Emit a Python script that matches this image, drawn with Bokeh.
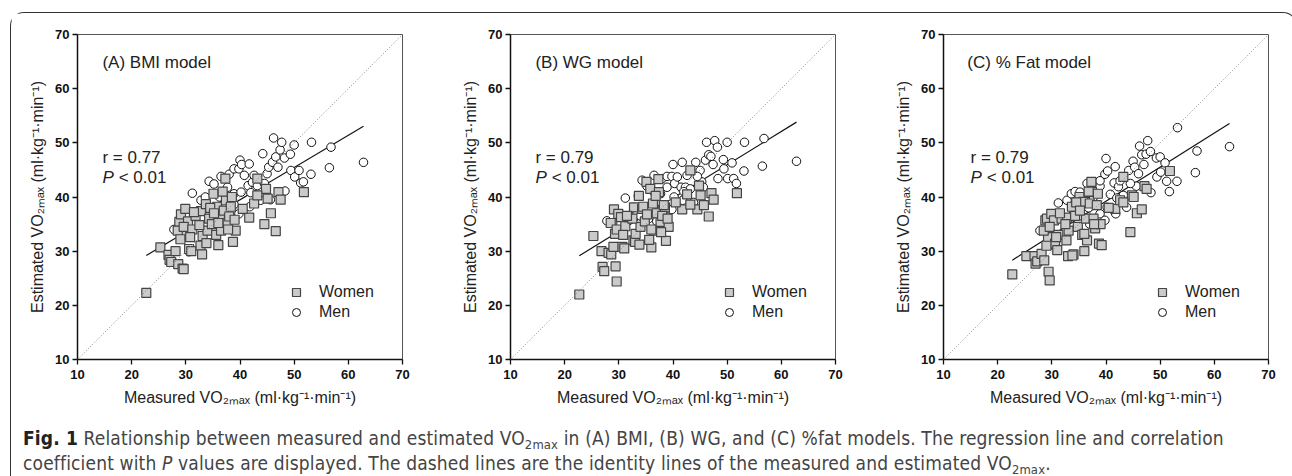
from bokeh.plotting import figure
from bokeh.models import (Label, Legend, LegendItem, FixedTicker, Slope, Div, Range1d)
from bokeh.layouts import row, column
from bokeh.embed import file_html
from bokeh.resources import INLINE

# ---------------- data ----------------
ticks = [10, 20, 30, 40, 50, 60, 70]
panel_titles = ["(A) BMI model", "(B) WG model", "(C) % Fat model"]
r_texts = ["r = 0.77", "r = 0.79", "r = 0.79"]
p_text = "< 0.01"

women_measured = [22.7, 25.3, 26.8, 27.0, 27.3, 28.1, 28.6, 29.4, 29.6, 28.8, 29.1, 29.9, 29.3, 30.4,
                  30.6, 28.5, 29.6, 31.2, 31.8, 32.8, 32.7, 33.0, 33.1, 33.7, 34.0, 34.3, 34.8, 35.1,
                  35.8, 36.0, 35.6, 36.5, 36.3, 37.3, 37.4, 37.7, 37.0, 38.5, 38.7, 39.2, 38.0, 38.3,
                  41.7, 42.6, 43.2, 44.5, 44.8, 45.1, 45.7, 46.6, 47.1, 47.5, 51.8, 43.2, 32.5, 30.8,
                  34.5, 36.8, 39.0, 33.8, 29.0, 31.5, 40.5, 37.8, 35.2, 31.0, 36.0]
women_est_bmi = [22.3, 30.7, 29.3, 28.4, 28.0, 30.0, 27.6, 26.8, 26.7, 35.4, 36.8, 37.8, 33.1, 35.5,
                 30.4, 33.8, 34.5, 34.0, 36.5, 37.4, 31.0, 29.4, 32.8, 38.7, 33.8, 36.0, 35.0, 40.6,
                 38.2, 31.1, 33.0, 33.8, 36.5, 43.4, 39.4, 35.2, 37.5, 40.0, 31.7, 33.8, 36.4, 38.2,
                 36.2, 38.8, 43.4, 35.0, 41.5, 39.7, 37.0, 33.7, 40.9, 39.5, 40.9, 40.3, 34.8, 32.6,
                 38.0, 41.0, 35.8, 31.5, 32.2, 37.2, 37.8, 34.0, 37.0, 30.0, 35.2]
women_est_wg = [22.0, 32.8, 30.0, 27.1, 26.3, 29.7, 29.4, 27.2, 24.4, 35.2, 37.7, 36.9, 33.2, 36.3,
                30.8, 35.2, 34.0, 34.6, 36.3, 38.1, 32.0, 31.7, 33.2, 40.2, 34.5, 37.8, 35.5, 42.8,
                41.5, 30.7, 32.1, 33.8, 38.8, 43.3, 40.9, 35.4, 37.0, 38.1, 31.9, 34.5, 36.5, 38.5,
                37.7, 40.5, 44.9, 37.7, 42.1, 40.3, 38.5, 36.4, 40.7, 39.5, 40.7, 38.6, 36.0, 33.0,
                38.2, 40.2, 36.0, 31.2, 30.8, 36.5, 39.0, 33.5, 36.8, 30.5, 34.0]
women_est_fat = [25.7, 29.1, 29.1, 27.7, 28.1, 29.5, 28.3, 26.2, 24.6, 35.7, 36.0, 36.9, 32.6, 35.7,
                 31.4, 33.8, 34.5, 33.0, 36.0, 36.2, 32.0, 29.1, 33.8, 38.2, 29.4, 36.5, 34.5, 40.0,
                 39.1, 30.0, 33.0, 32.0, 36.0, 42.8, 40.9, 36.0, 38.8, 40.6, 31.4, 31.1, 34.2, 38.5,
                 37.8, 39.4, 43.7, 33.5, 40.3, 40.0, 37.0, 37.7, 42.0, 41.5, 44.8, 39.0, 35.0, 32.6,
                 39.0, 41.0, 35.0, 29.2, 31.0, 37.0, 38.0, 35.0, 37.5, 30.2, 33.2]

men_measured = [27.8, 30.6, 31.2, 32.8, 33.6, 34.3, 35.2, 35.5, 36.2, 36.5, 37.7, 38.0, 38.9, 38.9,
                38.9, 39.8, 39.8, 40.0, 40.2, 40.3, 40.8, 41.5, 41.7, 41.8, 42.3, 42.6, 43.2, 43.8,
                44.2, 45.0, 45.3, 45.6, 46.0, 46.2, 46.6, 47.4, 47.7, 48.2, 48.3, 49.3, 49.4, 50.0,
                50.1, 50.9, 51.2, 51.7, 53.1, 53.2, 56.5, 56.8, 62.8, 36.8, 34.0, 37.0, 42.0, 44.5, 47.0]
men_est_bmi = [34.0, 29.9, 40.7, 39.4, 40.0, 42.9, 42.4, 36.3, 40.0, 43.8, 41.8, 44.2, 40.6, 38.6,
               45.2, 45.2, 36.9, 46.8, 40.9, 46.0, 44.0, 42.1, 46.1, 38.2, 42.7, 44.0, 42.1, 39.4,
               48.0, 44.3, 45.5, 39.5, 46.4, 50.9, 47.4, 48.7, 50.1, 47.2, 41.1, 47.9, 44.9, 49.6,
               43.7, 44.9, 42.6, 42.8, 44.2, 50.1, 45.4, 49.2, 46.4, 38.5, 37.5, 36.0, 40.8, 42.5, 45.5]
men_est_wg = [35.6, 30.6, 39.8, 38.1, 40.2, 43.1, 42.0, 36.0, 41.2, 44.0, 40.6, 43.4, 41.8, 36.3,
              43.8, 43.8, 37.7, 46.0, 40.0, 42.5, 43.7, 41.8, 46.4, 39.4, 41.8, 44.0, 41.5, 39.0,
              46.4, 44.9, 42.8, 41.8, 46.8, 50.1, 47.8, 46.0, 50.4, 49.2, 43.4, 46.9, 45.2, 50.1,
              43.4, 46.3, 43.4, 42.5, 44.8, 50.1, 45.7, 50.8, 46.6, 39.0, 36.5, 35.5, 41.0, 43.8, 47.5]
men_est_fat = [33.8, 30.8, 38.9, 39.4, 40.6, 41.0, 40.9, 36.5, 39.4, 42.5, 40.0, 41.2, 42.0, 36.9,
               43.0, 44.2, 35.7, 47.1, 38.1, 44.8, 40.5, 42.6, 45.6, 36.9, 41.9, 43.0, 40.3, 38.1,
               44.9, 46.6, 45.5, 42.0, 44.3, 49.4, 47.8, 47.9, 50.4, 48.4, 40.8, 47.2, 43.7, 47.4,
               44.6, 46.3, 42.9, 41.0, 42.9, 52.8, 44.5, 48.5, 49.3, 38.0, 37.0, 35.0, 39.8, 42.5, 46.0]

reg_slope = [0.595, 0.615, 0.629]
reg_intercept = [15.7, 15.2, 14.06]

women_est = [women_est_bmi, women_est_wg, women_est_fat]
men_est = [men_est_bmi, men_est_wg, men_est_fat]

# ---------------- styling ----------------
FONT = "Liberation Sans"
widths = [433, 433, 409]
right_borders = [42, 42, 18]
all_measured = women_measured + men_measured
x_lo, x_hi = min(all_measured), max(all_measured)

figs = []
for i in range(3):
    p = figure(width=widths[i], height=395, output_backend="svg", toolbar_location=None,
               x_range=Range1d(ticks[0], ticks[-1]), y_range=Range1d(ticks[0], ticks[-1]),
               min_border_left=66, min_border_right=right_borders[i],
               min_border_top=21, min_border_bottom=49)
    p.xgrid.visible = False
    p.ygrid.visible = False
    p.outline_line_color = "#555555"
    p.outline_line_width = 1
    p.background_fill_color = "white"
    p.border_fill_color = "white"

    for ax in (p.xaxis[0], p.yaxis[0]):
        ax.ticker = FixedTicker(ticks=ticks)
        ax.minor_tick_line_color = None
        ax.major_tick_in = 0
        ax.major_tick_out = 5
        ax.axis_line_width = 1.5
        ax.axis_line_color = "#111111"
        ax.major_tick_line_color = "#111111"
        ax.major_tick_line_width = 1.3
        ax.major_label_text_font = FONT
        ax.major_label_text_font_size = "13px"
        ax.major_label_text_font_style = "bold"
        ax.major_label_text_color = "#111111"
        ax.axis_label_text_font = FONT
        ax.axis_label_text_font_size = "16px"
        ax.axis_label_text_font_style = "normal"
        ax.axis_label_text_color = "#222222"
    p.xaxis[0].axis_label = "Measured VO\u2082\u2098\u2090\u2093 (ml\u00b7kg\u207b\u00b9\u00b7min\u207b\u00b9)"
    p.yaxis[0].axis_label = "Estimated VO\u2082\u2098\u2090\u2093 (ml\u00b7kg\u207b\u00b9\u00b7min\u207b\u00b9)"
    p.xaxis[0].major_label_standoff = 5
    p.yaxis[0].major_label_standoff = 3
    p.xaxis[0].axis_label_standoff = 7
    p.yaxis[0].axis_label_standoff = 6

    # identity line
    p.add_layout(Slope(gradient=1, y_intercept=0, line_color="#888888",
                       line_dash="1 2", line_width=1))
    # regression line
    p.line([x_lo, x_hi], [reg_slope[i] * x_lo + reg_intercept[i], reg_slope[i] * x_hi + reg_intercept[i]],
           line_color="#111111", line_width=1.2)

    rm = p.scatter(men_measured, men_est[i], marker="circle", size=8.5,
                   fill_color="white", line_color="#111111", line_width=1)
    rw = p.scatter(women_measured, women_est[i], marker="square", size=9,
                   fill_color="#cacaca", line_color="#444444", line_width=1.2)

    legend = Legend(items=[LegendItem(label="Women", renderers=[rw]),
                           LegendItem(label="Men", renderers=[rm])],
                    location=(209, 37), margin=0, padding=0, spacing=0,
                    glyph_width=20, glyph_height=20, label_height=20, label_standoff=13,
                    border_line_color=None, background_fill_alpha=0,
                    label_text_font=FONT, label_text_font_size="16px", label_text_color="#222222")
    p.add_layout(legend, "center")

    tx = 14.6 if i < 2 else 14.4
    p.add_layout(Label(x=tx, y=64.8, text=panel_titles[i], text_font=FONT, text_font_size="17px",
                       text_baseline="middle", text_color="#222222"))
    rx = 14.6 if i < 2 else 15.0
    p.add_layout(Label(x=rx, y=47.3, text=r_texts[i], text_font=FONT, text_font_size="17px",
                       text_baseline="middle", text_color="#222222"))
    p.add_layout(Label(x=rx, y=43.6, text="P", text_font=FONT, text_font_size="17px",
                       text_font_style="italic", text_baseline="middle", text_color="#222222"))
    p.add_layout(Label(x=rx + 3.0, y=43.6, text=p_text, text_font=FONT, text_font_size="17px",
                       text_baseline="middle", text_color="#222222"))
    figs.append(p)

sub = "<sub style='font-size:68%; vertical-align:-0.3em; line-height:0'>2max</sub>"
caption_html = ("<b style='color:#222'>Fig. 1</b> Relationship between measured and estimated VO" + sub +
                " in (A) BMI, (B) WG, and (C) %fat models. The regression line and correlation<br>"
                "coefficient with <i>P</i> values are displayed. The dashed lines are the identity lines "
                "of the measured and estimated VO" + sub + ".")
caption = Div(text=caption_html, width=1275, height=58,
              styles={"font-family": "'Liberation Sans Narrow', 'DejaVu Sans Condensed', sans-serif",
                      "font-size": "19px", "line-height": "25px", "color": "#444444",
                      "letter-spacing": "0.15px",
                      "padding-left": "7px", "padding-top": "13px"})

layout = column(row(*figs), caption, margin=(12, 0, 0, 10),
                styles={"border": "1.5px solid #333333", "border-bottom": "none",
                        "border-radius": "14px 14px 0 0", "background-color": "white"})

open("out.html", "w").write(file_html(layout, INLINE))
